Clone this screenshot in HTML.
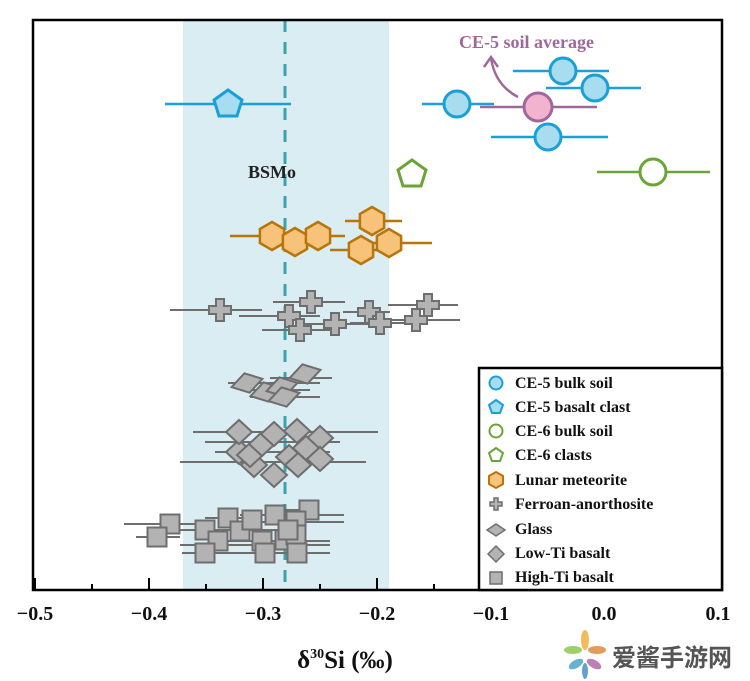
<!DOCTYPE html>
<html><head><meta charset="utf-8"><style>
html,body{margin:0;padding:0;background:#fff;}
svg{display:block;font-family:"Liberation Serif",serif;font-weight:bold;}
</style></head><body>
<svg width="750" height="681" viewBox="0 0 750 681" xmlns="http://www.w3.org/2000/svg">
<defs>
<g id="cross"><path d="M-4,-11h8v7h7v8h-7v7h-8v-7h-7v-8h7z" fill="#b3b3b3" stroke="#6e6e6e" stroke-width="2"/></g>
<g id="dia"><path d="M0,-12L13,0L0,12L-13,0z" fill="#b3b3b3" stroke="#6e6e6e" stroke-width="2"/></g>
<g id="gdia"><path d="M0,-10L16,0L0,10L-16,0z" fill="#b3b3b3" stroke="#6e6e6e" stroke-width="2" transform="rotate(-15)"/></g>
<g id="sq"><rect x="-9.5" y="-9.5" width="19" height="19" fill="#b3b3b3" stroke="#6e6e6e" stroke-width="2"/></g>
<g id="hex"><path d="M0,-14L12.1,-7L12.1,7L0,14L-12.1,7L-12.1,-7z" fill="#f7c27a" stroke="#b8750a" stroke-width="2.5"/></g>
</defs>
<rect x="183" y="20" width="206" height="570" fill="#d9edf3"/>
<line x1="285" y1="20" x2="285" y2="590" stroke="#3ba3b0" stroke-width="3" stroke-dasharray="12,10"/>
<rect x="33" y="20" width="689" height="570" fill="none" stroke="#000" stroke-width="2.5"/>
<g stroke="#000" stroke-width="2">
<line x1="35" y1="590" x2="35" y2="578"/><line x1="149" y1="590" x2="149" y2="578"/><line x1="263" y1="590" x2="263" y2="578"/><line x1="377" y1="590" x2="377" y2="578"/><line x1="491" y1="590" x2="491" y2="578"/><line x1="604" y1="590" x2="604" y2="578"/><line x1="718" y1="590" x2="718" y2="578"/>
<line x1="92" y1="590" x2="92" y2="584"/><line x1="206" y1="590" x2="206" y2="584"/><line x1="320" y1="590" x2="320" y2="584"/><line x1="434" y1="590" x2="434" y2="584"/><line x1="547" y1="590" x2="547" y2="584"/><line x1="661" y1="590" x2="661" y2="584"/>
</g>
<g font-size="20" text-anchor="middle" fill="#111">
<text x="35" y="620">−0.5</text><text x="149" y="620">−0.4</text><text x="263" y="620">−0.3</text><text x="377" y="620">−0.2</text><text x="491" y="620">−0.1</text><text x="604" y="620">0.0</text><text x="718" y="620">0.1</text>
</g>
<text x="345" y="668" font-size="25" text-anchor="middle" fill="#111">δ<tspan font-size="14" dy="-10">30</tspan><tspan dy="10">Si (‰)</tspan></text>
<text x="248" y="178" font-size="18" fill="#222">BSMo</text>
<g stroke="#1aa0d8" stroke-width="2.5">
<line x1="513" y1="71" x2="609" y2="71"/><line x1="546" y1="88" x2="641" y2="88"/><line x1="422" y1="104" x2="494" y2="104"/><line x1="491" y1="137" x2="608" y2="137"/><line x1="165" y1="104" x2="291" y2="104"/>
</g>
<line x1="480" y1="107" x2="597" y2="107" stroke="#a0689a" stroke-width="2.5"/>
<g fill="#a8dcef" stroke="#1aa0d8" stroke-width="3">
<circle cx="563" cy="71" r="13"/><circle cx="595" cy="88" r="13"/><circle cx="457" cy="104" r="13"/><circle cx="548" cy="137" r="13"/>
<path d="M228,90L242,100L237,116L219,116L214,100z"/>
</g>
<circle cx="538" cy="107" r="14" fill="#f2b3cf" stroke="#a0689a" stroke-width="3"/>
<path d="M518,97Q495,85 491,58" fill="none" stroke="#a0689a" stroke-width="2.5"/>
<path d="M484,67L491,57L498,67" fill="none" stroke="#a0689a" stroke-width="2.5"/>
<text x="459" y="48" font-size="18" fill="#a0689a">CE-5 soil average</text>
<line x1="597" y1="172" x2="710" y2="172" stroke="#6aa53a" stroke-width="2.5"/>
<circle cx="653" cy="172" r="13" fill="#fff" stroke="#6aa53a" stroke-width="3"/>
<path d="M412,160L426,170L421,186L403,186L398,170z" fill="#fff" stroke="#6aa53a" stroke-width="3"/>
<g stroke="#b8750a" stroke-width="2.5">
<line x1="230" y1="236" x2="312" y2="236"/><line x1="262" y1="242" x2="330" y2="242"/><line x1="290" y1="236" x2="345" y2="236"/><line x1="345" y1="221" x2="402" y2="221"/><line x1="350" y1="243" x2="432" y2="243"/><line x1="330" y1="250" x2="392" y2="250"/>
</g>
<use href="#hex" x="272" y="236"/><use href="#hex" x="295" y="242"/><use href="#hex" x="318" y="236"/><use href="#hex" x="372" y="221"/><use href="#hex" x="389" y="243"/><use href="#hex" x="361" y="250"/>
<g stroke="#6e6e6e" stroke-width="2">
<line x1="170" y1="310" x2="262" y2="310"/><line x1="273" y1="302" x2="345" y2="302"/><line x1="239" y1="316" x2="320" y2="316"/><line x1="262" y1="330" x2="330" y2="330"/><line x1="300" y1="324" x2="370" y2="324"/><line x1="343" y1="312" x2="390" y2="312"/><line x1="350" y1="323" x2="410" y2="323"/><line x1="388" y1="305" x2="458" y2="305"/><line x1="380" y1="320" x2="460" y2="320"/>
</g>
<use href="#cross" x="220" y="310"/><use href="#cross" x="311" y="302"/><use href="#cross" x="289" y="316"/><use href="#cross" x="300" y="330"/><use href="#cross" x="335" y="324"/><use href="#cross" x="369" y="312"/><use href="#cross" x="380" y="323"/><use href="#cross" x="428" y="305"/><use href="#cross" x="416" y="320"/>
<g stroke="#6e6e6e" stroke-width="2">
<line x1="228" y1="383" x2="320" y2="383"/><line x1="240" y1="390" x2="310" y2="390"/><line x1="270" y1="378" x2="332" y2="378"/><line x1="250" y1="397" x2="320" y2="397"/>
</g>
<use href="#gdia" x="247" y="383"/><use href="#gdia" x="266" y="392"/><use href="#gdia" x="282" y="387"/><use href="#gdia" x="305" y="374"/><use href="#gdia" x="284" y="397"/>
<g stroke="#6e6e6e" stroke-width="2">
<line x1="193" y1="432" x2="378" y2="432"/><line x1="205" y1="442" x2="340" y2="442"/><line x1="180" y1="462" x2="366" y2="462"/><line x1="215" y1="452" x2="330" y2="452"/>
</g>
<use href="#dia" x="239" y="452"/><use href="#dia" x="254" y="465"/><use href="#dia" x="250" y="455"/><use href="#dia" x="262" y="444"/><use href="#dia" x="239" y="432"/><use href="#dia" x="274" y="434"/><use href="#dia" x="297" y="431"/><use href="#dia" x="320" y="438"/><use href="#dia" x="306" y="448"/><use href="#dia" x="289" y="457"/><use href="#dia" x="320" y="459"/><use href="#dia" x="298" y="465"/><use href="#dia" x="274" y="475"/>
<g stroke="#6e6e6e" stroke-width="2">
<line x1="124" y1="524" x2="200" y2="524"/><line x1="136" y1="537" x2="180" y2="537"/><line x1="205" y1="518" x2="250" y2="518"/><line x1="180" y1="530" x2="290" y2="530"/><line x1="240" y1="515" x2="344" y2="515"/><line x1="250" y1="522" x2="344" y2="522"/><line x1="270" y1="510" x2="318" y2="510"/><line x1="180" y1="545" x2="330" y2="545"/><line x1="182" y1="553" x2="330" y2="553"/><line x1="220" y1="541" x2="330" y2="541"/>
</g>
<use href="#sq" x="170" y="524"/><use href="#sq" x="157" y="537"/><use href="#sq" x="228" y="518"/><use href="#sq" x="205" y="530"/><use href="#sq" x="218" y="541"/><use href="#sq" x="240" y="531"/><use href="#sq" x="252" y="520"/><use href="#sq" x="275" y="515"/><use href="#sq" x="309" y="510"/><use href="#sq" x="296" y="521"/><use href="#sq" x="262" y="541"/><use href="#sq" x="285" y="540"/><use href="#sq" x="296" y="535"/><use href="#sq" x="205" y="553"/><use href="#sq" x="265" y="553"/><use href="#sq" x="297" y="553"/><use href="#sq" x="288" y="530"/>
<rect x="479" y="368" width="243" height="222" fill="#fff" stroke="#000" stroke-width="2.5"/>
<g font-size="16" fill="#111">
<circle cx="496" cy="383" r="6.5" fill="#a8dcef" stroke="#1aa0d8" stroke-width="2"/><text x="515" y="388">CE-5 bulk soil</text>
<path d="M496,400L503,405L500,413L492,413L489,405z" fill="#a8dcef" stroke="#1aa0d8" stroke-width="2"/><text x="515" y="412">CE-5 basalt clast</text>
<circle cx="496" cy="431" r="6.5" fill="#fff" stroke="#6aa53a" stroke-width="2"/><text x="515" y="436">CE-6 bulk soil</text>
<path d="M496,448L503,453L500,461L492,461L489,453z" fill="#fff" stroke="#6aa53a" stroke-width="2"/><text x="515" y="460">CE-6 clasts</text>
<path d="M496,472L503,476L503,484L496,488L489,484L489,476z" fill="#f7c27a" stroke="#b8750a" stroke-width="2"/><text x="515" y="485">Lunar meteorite</text>
<path d="M494,498h4v4h4v4h-4v4h-4v-4h-4v-4h4z" fill="#b3b3b3" stroke="#6e6e6e" stroke-width="1.5"/><text x="515" y="509">Ferroan-anorthosite</text>
<path d="M496,524L505,530L496,536L487,530z" fill="#b3b3b3" stroke="#6e6e6e" stroke-width="1.5"/><text x="515" y="534">Glass</text>
<path d="M496,546L504,554L496,562L488,554z" fill="#b3b3b3" stroke="#6e6e6e" stroke-width="1.5"/><text x="515" y="558">Low-Ti basalt</text>
<rect x="490" y="572" width="12" height="12" fill="#b3b3b3" stroke="#6e6e6e" stroke-width="1.5"/><text x="515" y="582">High-Ti basalt</text>
</g>
<g opacity="0.85">
<ellipse cx="585" cy="640" rx="4" ry="10" fill="#f0b040"/>
<ellipse cx="573" cy="650" rx="9" ry="4" fill="#8cc850"/>
<ellipse cx="597" cy="650" rx="9" ry="4" fill="#e08a3a"/>
<ellipse cx="576" cy="664" rx="8" ry="4" fill="#4aa8c8" transform="rotate(-30 576 664)"/>
<ellipse cx="594" cy="664" rx="8" ry="4" fill="#b06aa8" transform="rotate(30 594 664)"/>
<ellipse cx="585" cy="671" rx="3" ry="8" fill="#4a90c8"/>
</g>
<text x="612" y="666" font-family="'Noto Sans CJK SC',sans-serif" font-size="24" font-weight="bold" fill="#555">爱酱手游网</text>
</svg>
</body></html>
